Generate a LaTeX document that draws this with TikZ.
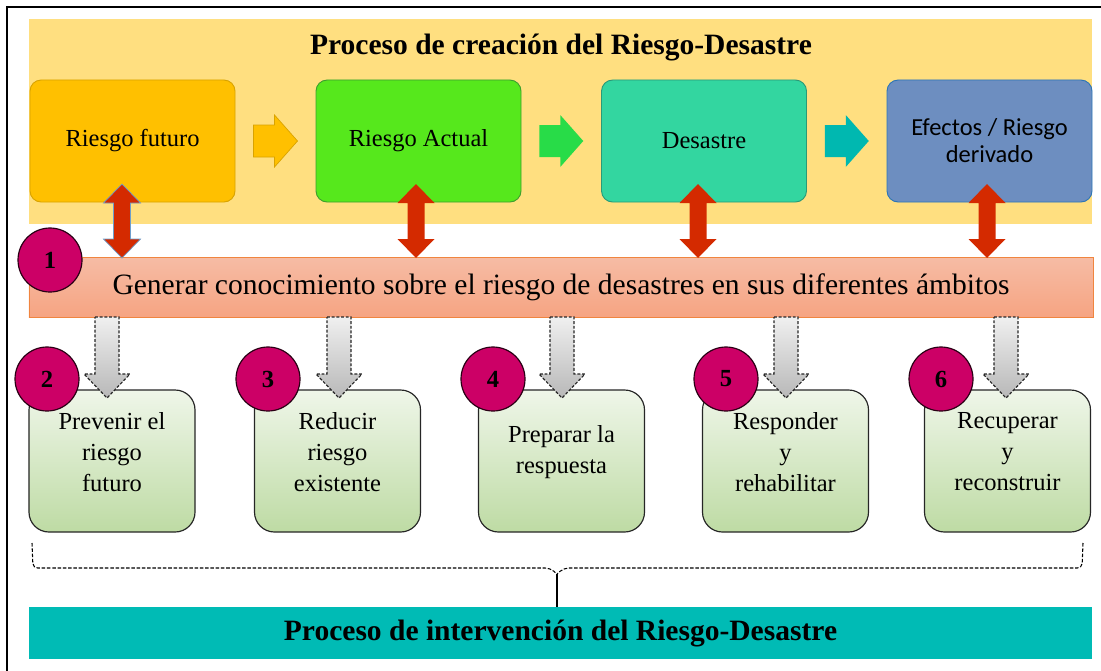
\documentclass[tikz,border=0pt]{standalone}
\usepackage{fontspec}
\setmainfont{LiberationSerif}[Extension=.ttf, UprightFont=*-Regular, BoldFont=*-Bold,
  ItalicFont=*-Italic, BoldItalicFont=*-BoldItalic]
\newfontfamily\calibri{Carlito}
\usetikzlibrary{calc}

\definecolor{fondo}{HTML}{FFDF80}
\definecolor{futuro}{HTML}{FFC000}
\definecolor{futuroD}{HTML}{D9A300}
\definecolor{actual}{HTML}{56E81C}
\definecolor{actualD}{HTML}{3E9E2E}
\definecolor{desastre}{HTML}{33D6A0}
\definecolor{desastreD}{HTML}{2A9A78}
\definecolor{efectos}{HTML}{6D8EC0}
\definecolor{efectosD}{HTML}{2E75B6}
\definecolor{flechaA}{HTML}{28DC48}
\definecolor{flechaD}{HTML}{00B8B0}
\definecolor{rojo}{HTML}{D42A00}
\definecolor{magenta}{HTML}{CC0066}
\definecolor{salmonA}{HTML}{F6BCA5}
\definecolor{salmonB}{HTML}{F6A482}
\definecolor{salmonD}{HTML}{F0853F}
\definecolor{verdeA}{HTML}{EFF6E9}
\definecolor{verdeB}{HTML}{BEDBA4}
\definecolor{turquesa}{HTML}{00BBB5}

\tikzset{
  harrow/.pic={\path[pic actions] (-22,-16) -- (-1,-16) -- (-1,-26) -- (22,0)
      -- (-1,26) -- (-1,16) -- (-22,16) -- cycle;},
  darrow/.pic={\path[pic actions] (0,-37) -- (18.5,-18) -- (8.5,-18) -- (8.5,18)
      -- (18.5,18) -- (0,37) -- (-18.5,18) -- (-8.5,18) -- (-8.5,-18) -- (-18.5,-18) -- cycle;},
  garrow/.pic={\path[pic actions] (-12,0) -- (12,0) -- (12,57) -- (23,57) -- (0,81)
      -- (-23,57) -- (-12,57) -- cycle;},
  topbox/.style={rounded corners=9.5pt, minimum width=6.15cm, minimum height=3.66cm,
      line width=0.8pt, align=center, font=\fontsize{20.9}{25}\selectfont},
  lowbox/.style={rounded corners=17pt, minimum width=4.98cm, minimum height=4.26cm,
      draw=black!85, line width=1pt, top color=verdeA, bottom color=verdeB},
  lowtext/.style={align=center, yshift=7.7pt, font=\fontsize{20.9}{26.5}\selectfont},
  num/.style={circle, minimum size=1.92cm, inner sep=0pt, fill=magenta,
      draw=black!80!magenta, line width=1pt, font=\fontsize{21}{21}\selectfont\bfseries},
  redarrow/.style={fill=rojo},
  grayarrow/.style={top color=black!6, bottom color=black!28, draw=black!85,
      dash pattern=on 2.5pt off 1.5pt, line width=1pt}
}

\begin{document}
\begin{tikzpicture}[x=0.03cm,y=-0.03cm]
    \useasboundingbox (0,0) rectangle (1101,670);
    % marco
    \draw[line width=1.8pt] (7,690) -- (7,7) -- (1110,7);
    %(creacion)
    \fill[fondo] (29,19) rectangle (1092,224);
    \node (tit) at (561,47) {\fontsize{25.2}{30}\selectfont\bfseries Proceso de creación del Riesgo-Desastre};
    \node[topbox, fill=futuro, draw=futuroD] (rf) at (132.5,141) {Riesgo futuro};
    \node[topbox, fill=actual, draw=actualD] (ra) at (418.5,141) {Riesgo Actual};
    \node[topbox, fill=desastre, draw=desastreD] (ds) at (704,141) {Desastre};
    \node[topbox, fill=efectos, draw=efectosD, font=\calibri\fontsize{20.9}{23}\selectfont] (ef) at (989.5,141) {Efectos / Riesgo\\derivado};
    \pic[fill=futuro, draw=futuroD, line width=0.6pt] at ($(rf.east)!0.5!(ra.west)$) {harrow};
    \pic[fill=flechaA] at ($(ra.east)!0.5!(ds.west)$) {harrow};
    \pic[fill=flechaD] at ($(ds.east)!0.5!(ef.west)$) {harrow};
    %(1)
    \node[minimum width=31.92cm, minimum height=1.8cm, top color=salmonA, bottom color=salmonB,
      draw=salmonD, line width=0.8pt, font=\fontsize{25.2}{30}\selectfont] (gen) at (561,287)
      {Generar conocimiento sobre el riesgo de desastres en sus diferentes ámbitos};
    \pic[redarrow, draw=efectosD!70, line width=0.6pt] at (122,221) {darrow};
    \pic[redarrow] at (416,221) {darrow};
    \pic[redarrow] at (698,221) {darrow};
    \pic[redarrow] at (987,221) {darrow};
    \node[num] (n1) at (50,260) {1};
    %(2)-(6)
    \node[lowbox] (b2) at (112,461) {};
    \node[lowbox] (b3) at (337.5,461) {};
    \node[lowbox] (b4) at (561.5,461) {};
    \node[lowbox] (b5) at (785.5,461) {};
    \node[lowbox] (b6) at (1007.5,461) {};
    \node[lowtext] (t2) at (b2) {Prevenir el\\riesgo\\futuro};
    \node[lowtext] (t3) at (b3) {Reducir\\riesgo\\existente};
    \node[lowtext] (t4) at (b4) {Preparar la\\respuesta};
    \node[lowtext] (t5) at (b5) {Responder\\y\\rehabilitar};
    \node[lowtext] (t6) at (b6) {Recuperar\\y\\reconstruir};
    \pic[grayarrow] at (107,317) {garrow};
    \pic[grayarrow] at (339,317) {garrow};
    \pic[grayarrow] at (562,317) {garrow};
    \pic[grayarrow] at (786,317) {garrow};
    \pic[grayarrow] at (1006,317) {garrow};
    \node[num] (n2) at (47,379) {2};
    \node[num] (n3) at (268,379) {3};
    \node[num] (n4) at (493,379) {4};
    \node[num] (n5) at (726,379) {5};
    \node[num] (n6) at (941,379) {6};
    %(intervencion)
    \node[minimum width=31.89cm, minimum height=1.56cm, fill=turquesa,
      font=\fontsize{25.2}{30}\selectfont\bfseries] (pi) at (560.5,633)
      {Proceso de intervención del Riesgo-Desastre};
    \coordinate (llave) at (557,574);
    \draw[dash pattern=on 3pt off 1.5pt, line width=0.9pt, rounded corners=4pt]
      (32,543) -- (33,568) -- (550,568) -- (llave) (1083,543) -- (1082,568) -- (564,568) -- (llave);
    \draw[line width=0.9pt] (llave) -- (llave |- pi.north);
\end{tikzpicture}
\end{document}
